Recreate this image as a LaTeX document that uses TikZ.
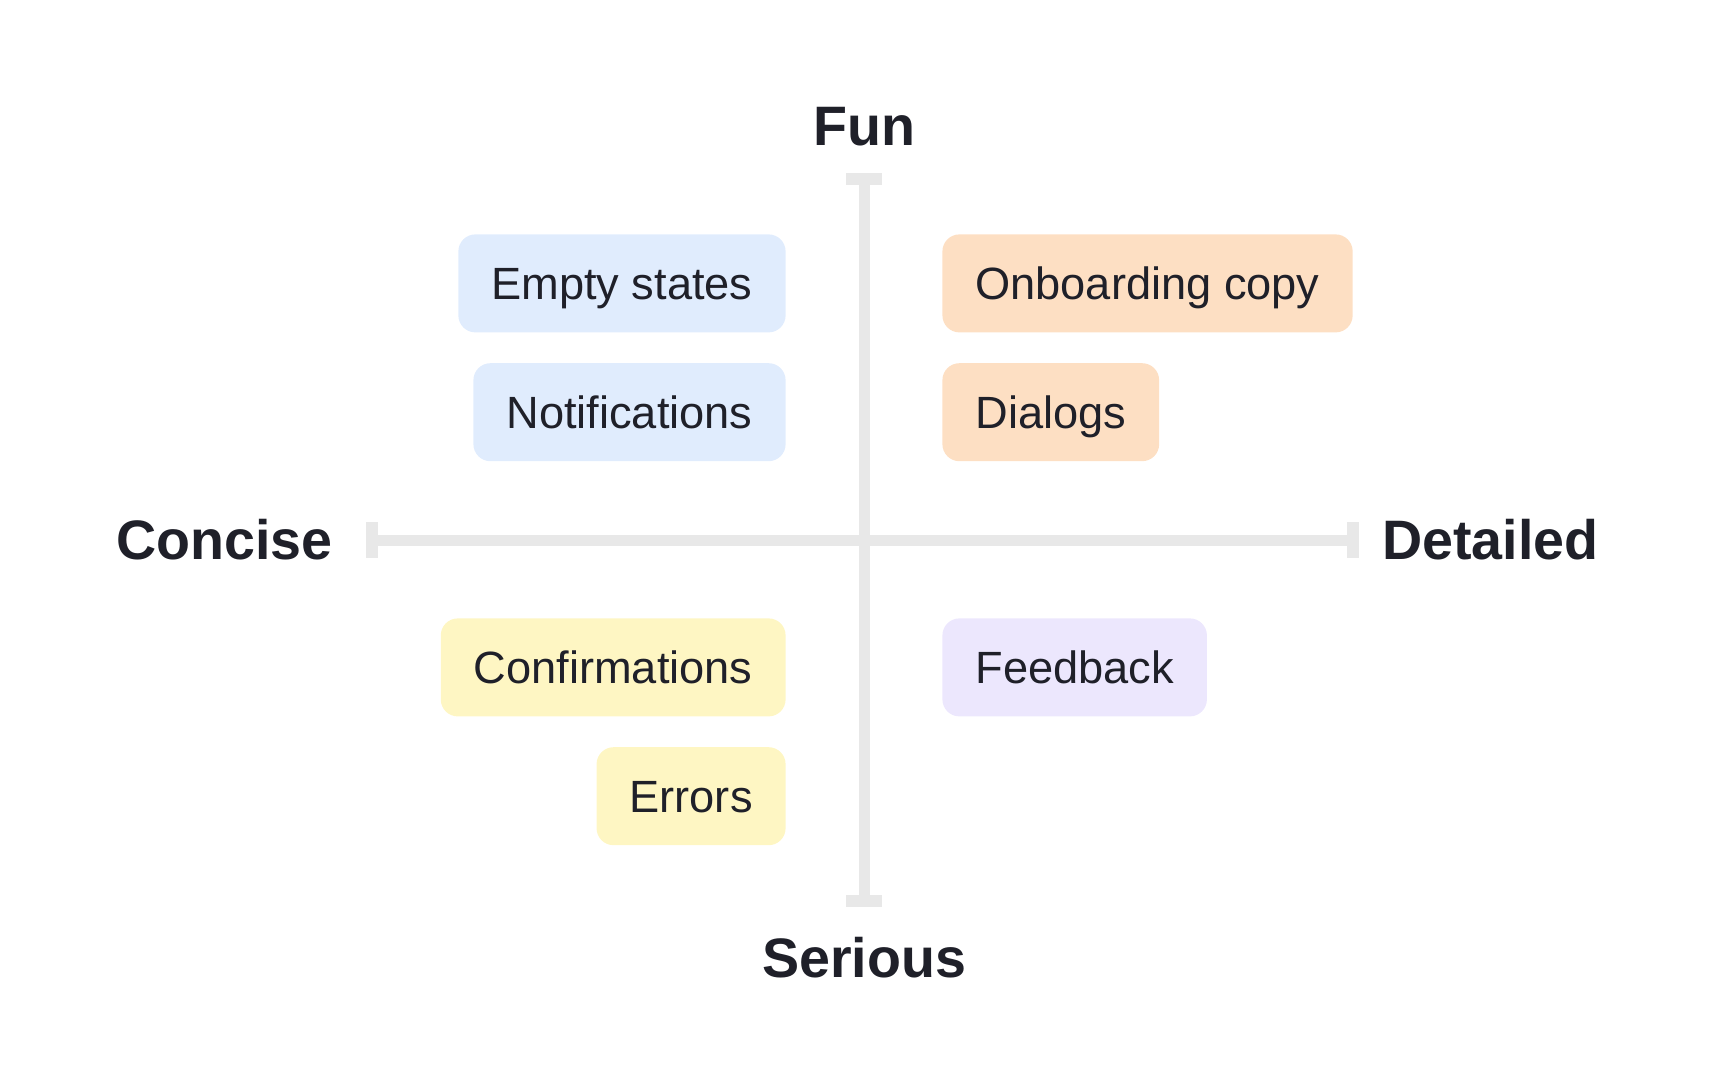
\documentclass[tikz,border=0pt]{standalone}
\usepackage{fontspec}
\setmainfont{Liberation Sans}
\usetikzlibrary{positioning}
\definecolor{ink}{HTML}{1F2029}
\definecolor{axisgray}{HTML}{E8E8E8}
\definecolor{bluebg}{HTML}{E0ECFD}
\definecolor{peachbg}{HTML}{FDDFC3}
\definecolor{yellowbg}{HTML}{FEF6C3}
\definecolor{lilacbg}{HTML}{ECE7FD}

\begin{document}
\begin{tikzpicture}[x=0.5pt, y=-0.5pt, every node/.style={text=ink},
  axisline/.style={draw=axisgray, line width=5.5pt},
  axiscap/.style={draw=axisgray, line width=6pt},
  axislabel/.style={font=\fontsize{27.8}{33}\selectfont\bfseries, inner sep=0pt},
  tag/.style={rounded corners=8.5pt, minimum height=49pt, inner xsep=16.5pt, inner ysep=0pt,
    text height=16.2pt, text depth=0pt, font=\fontsize{22.6}{26}\selectfont}]
\useasboundingbox (0,0) rectangle (1728,1080);
\coordinate (l) at (372,540);
\coordinate (r) at (1353,540);
\coordinate (t) at (864,179.5);
\coordinate (b) at (864,900.5);

% axes
\draw[axisline] (l) -- (r);
\draw[axisline] (t) -- (b);
\draw[axiscap] ([yshift=9pt]l) -- ([yshift=-9pt]l);
\draw[axiscap] ([yshift=9pt]r) -- ([yshift=-9pt]r);
\draw[axiscap] ([xshift=-9pt]t) -- ([xshift=9pt]t);
\draw[axiscap] ([xshift=-9pt]b) -- ([xshift=9pt]b);

\node[axislabel, above=16.5pt of t] (fun) {Fun};
\node[axislabel, below=18pt of b] (serious) {Serious};
\node[axislabel, left=19.5pt of l] (concise) {Concise};
\node[axislabel, right=14.5pt of r] (detailed) {Detailed};

% quadrants
\node[tag, fill=bluebg, anchor=north east] (empty) at (786,234) {Empty states};
\node[tag, fill=bluebg, below=15pt of empty.south east, anchor=north east] (notif) {Notifications};
\node[tag, fill=peachbg, anchor=north west] (onboard) at (942,234) {Onboarding copy};
\node[tag, fill=peachbg, below=15pt of onboard.south west, anchor=north west] (dialogs) {Dialogs};
\node[tag, fill=yellowbg, anchor=north east] (confirm) at (786,618) {Confirmations};
\node[tag, fill=yellowbg, below=15pt of confirm.south east, anchor=north east] (errors) {Errors};
\node[tag, fill=lilacbg, anchor=north west] (feedback) at (942,618) {Feedback};
\end{tikzpicture}
\end{document}
